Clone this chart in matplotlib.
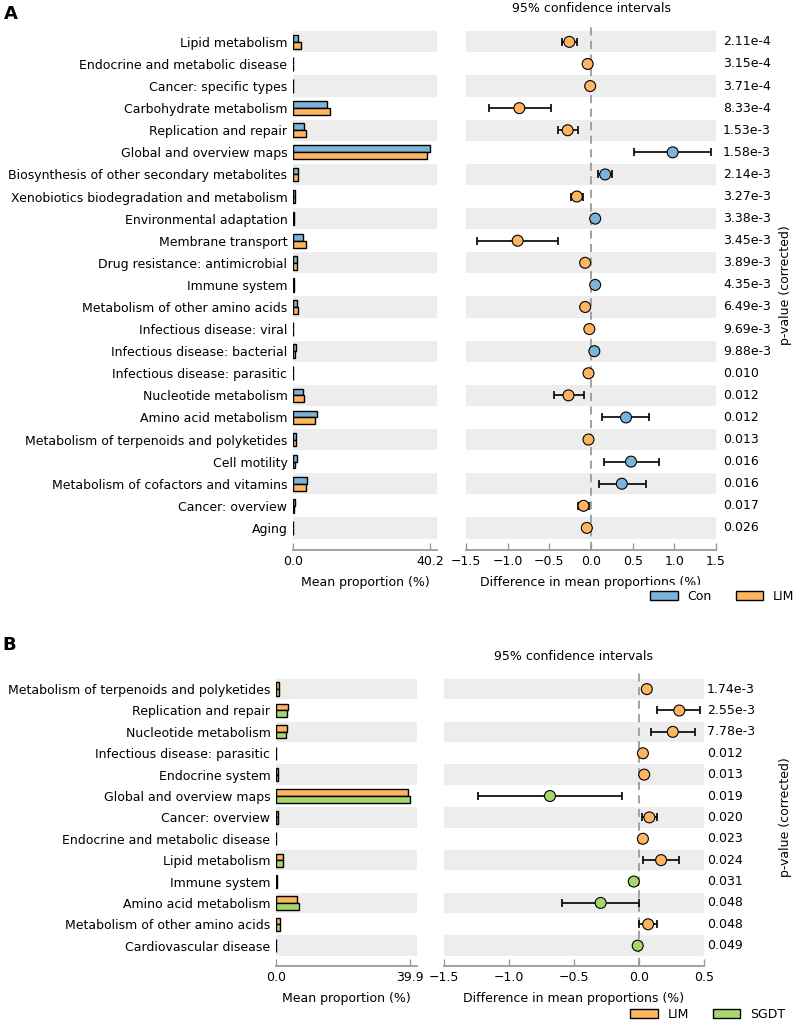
import numpy as np
import matplotlib.pyplot as plt
from matplotlib.patches import Patch
from matplotlib.transforms import blended_transform_factory

plt.rcParams['font.family'] = 'DejaVu Sans'
plt.rcParams['font.size'] = 9

# ---- Panel A: Con vs LIM ----
a_features = ['Lipid metabolism', 'Endocrine and metabolic disease', 'Cancer: specific types',
              'Carbohydrate metabolism', 'Replication and repair', 'Global and overview maps',
              'Biosynthesis of other secondary metabolites', 'Xenobiotics biodegradation and metabolism',
              'Environmental adaptation', 'Membrane transport', 'Drug resistance: antimicrobial',
              'Immune system', 'Metabolism of other amino acids', 'Infectious disease: viral',
              'Infectious disease: bacterial', 'Infectious disease: parasitic', 'Nucleotide metabolism',
              'Amino acid metabolism', 'Metabolism of terpenoids and polyketides', 'Cell motility',
              'Metabolism of cofactors and vitamins', 'Cancer: overview', 'Aging']
a_con = [1.5, 0.1, 0.1, 9.9, 3.2, 40.2, 1.6, 0.7, 0.2, 2.8, 1.1, 0.2, 1.3, 0.1, 0.8, 0.1,
         2.8, 6.9, 1.0, 1.1, 4.0, 0.5, 0.1]
a_lim = [2.2, 0.1, 0.1, 10.9, 3.7, 39.2, 1.5, 0.6, 0.2, 3.8, 1.1, 0.2, 1.4, 0.1, 0.7, 0.1,
         3.2, 6.5, 0.9, 0.6, 3.8, 0.4, 0.1]
a_diff = [-0.26, -0.04, -0.01, -0.86, -0.28, 0.98, 0.17, -0.17, 0.05, -0.88, -0.07, 0.05,
          -0.07, -0.02, 0.04, -0.03, -0.27, 0.42, -0.03, 0.48, 0.37, -0.09, -0.05]
a_low = [-0.35, -0.06, -0.03, -1.23, -0.40, 0.52, 0.08, -0.24, 0.03, -1.37, -0.10, 0.03,
         -0.10, -0.04, 0.02, -0.05, -0.44, 0.13, -0.05, 0.15, 0.10, -0.16, -0.07]
a_high = [-0.17, -0.02, 0.01, -0.48, -0.16, 1.44, 0.25, -0.10, 0.07, -0.40, -0.04, 0.07,
          -0.04, 0.00, 0.06, -0.01, -0.09, 0.70, -0.01, 0.81, 0.66, -0.02, -0.03]
a_pvals = ['2.11e-4', '3.15e-4', '3.71e-4', '8.33e-4', '1.53e-3', '1.58e-3', '2.14e-3', '3.27e-3',
           '3.38e-3', '3.45e-3', '3.89e-3', '4.35e-3', '6.49e-3', '9.69e-3', '9.88e-3', '0.010',
           '0.012', '0.012', '0.013', '0.016', '0.016', '0.017', '0.026']
a_groups = ['Con', 'LIM']

# ---- Panel B: LIM vs SGDT ----
b_features = ['Metabolism of terpenoids and polyketides', 'Replication and repair',
              'Nucleotide metabolism', 'Infectious disease: parasitic', 'Endocrine system',
              'Global and overview maps', 'Cancer: overview', 'Endocrine and metabolic disease',
              'Lipid metabolism', 'Immune system', 'Amino acid metabolism',
              'Metabolism of other amino acids', 'Cardiovascular disease']
b_lim = [1.0, 3.7, 3.2, 0.1, 0.6, 39.2, 0.5, 0.1, 2.2, 0.2, 6.35, 1.2, 0.1]
b_sgdt = [0.9, 3.4, 2.9, 0.1, 0.6, 39.9, 0.5, 0.1, 2.0, 0.2, 6.9, 1.1, 0.1]
b_diff = [0.06, 0.31, 0.26, 0.03, 0.04, -0.685, 0.08, 0.03, 0.17, -0.04, -0.295, 0.07, -0.01]
b_low = [0.04, 0.14, 0.09, 0.01, 0.02, -1.24, 0.02, 0.01, 0.03, -0.07, -0.59, 0.00, -0.03]
b_high = [0.08, 0.47, 0.43, 0.05, 0.06, -0.13, 0.14, 0.05, 0.31, -0.01, 0.00, 0.14, 0.01]
b_pvals = ['1.74e-3', '2.55e-3', '7.78e-3', '0.012', '0.013', '0.019', '0.020', '0.023',
           '0.024', '0.031', '0.048', '0.048', '0.049']
b_groups = ['LIM', 'SGDT']

blue = '#7EB3D9'
orange = '#FDB562'
green = '#A6D76B'
band = '#EDEDED'
gray = '#9A9A9A'

W, H = 796, 1023
fig = plt.figure(figsize=(W / 100, H / 100), dpi=100)


def rect(left, right, top, bottom):
    return [left / W, 1 - bottom / H, (right - left) / W, (bottom - top) / H]


def style_axis(ax):
    for s in ['left', 'top', 'right']:
        ax.spines[s].set_visible(False)
    ax.spines['bottom'].set_color(gray)
    ax.spines['bottom'].set_linewidth(1.3)
    ax.tick_params(axis='x', direction='in', length=5, width=1, color=gray, pad=3.5)


def draw_panel(bar_box, diff_box, features, g1, g2, diff, low, high, pvals, groups,
               c1, c2, ylim_pad, diff_lim, diff_ticks, p_x):
    n = len(features)
    y = np.arange(n)[::-1]
    ax_bar = fig.add_axes(bar_box)
    ax_dif = fig.add_axes(diff_box)

    for i in range(0, n, 2):
        ax_bar.axhspan(y[i] - 0.48, y[i] + 0.48, color=band, lw=0, zorder=0)
        ax_dif.axhspan(y[i] - 0.48, y[i] + 0.48, color=band, lw=0, zorder=0)

    # mean proportion bars
    h = 0.31
    ax_bar.barh(y + h / 2, g1, height=h, color=c1, edgecolor='black', lw=1, zorder=2)
    ax_bar.barh(y - h / 2, g2, height=h, color=c2, edgecolor='black', lw=1, zorder=2)
    vmax = max(max(g1), max(g2))
    ax_bar.set_xlim(0, vmax * 1.05)
    ax_bar.set_xticks([0, vmax])
    ax_bar.set_xticklabels(['0.0', '%.1f' % vmax])
    ax_bar.set_yticks(y)
    ax_bar.set_yticklabels(features)
    ax_bar.tick_params(axis='y', length=0, pad=4)
    ax_bar.set_ylim(-ylim_pad[0], n - 1 + ylim_pad[1])
    ax_bar.set_xlabel('Mean proportion (%)', labelpad=6)
    style_axis(ax_bar)

    # difference with confidence intervals
    diff = np.array(diff)
    xerr = [diff - np.array(low), np.array(high) - diff]
    ax_dif.axvline(0, color=gray, ls='--', lw=1.3, dashes=(4.5, 3), zorder=1)
    ax_dif.errorbar(diff, y, xerr=xerr, fmt='none', ecolor='black', elinewidth=1.2,
                    capsize=3.2, capthick=1.2, zorder=3)
    colors = [c1 if d > 0 else c2 for d in diff]
    ax_dif.scatter(diff, y, s=62, c=colors, edgecolors='black', linewidths=0.8, zorder=4)
    ax_dif.set_xlim(*diff_lim)
    ax_dif.set_xticks(diff_ticks)
    ax_dif.set_yticks([])
    ax_dif.set_ylim(-ylim_pad[0], n - 1 + ylim_pad[1])
    ax_dif.set_xlabel('Difference in mean proportions (%)', labelpad=6)
    style_axis(ax_dif)

    tr = blended_transform_factory(ax_dif.transAxes, ax_dif.transData)
    for yy, p in zip(y, pvals):
        ax_dif.text(p_x, yy, p, transform=tr, ha='left', va='center', fontsize=9)
    return ax_bar, ax_dif


draw_panel(rect(293, 437, 22, 550), rect(466, 716, 22, 550), a_features, a_con, a_lim,
           a_diff, a_low, a_high, a_pvals, a_groups, blue, orange, (1.0, 0.9),
           (-1.5, 1.5), [-1.5, -1.0, -0.5, 0.0, 0.5, 1.0, 1.5], 1.028)

draw_panel(rect(276, 417, 672, 966), rect(444, 704, 672, 966), b_features, b_lim, b_sgdt,
           b_diff, b_low, b_high, b_pvals, b_groups, orange, green, (0.95, 0.8),
           (-1.5, 0.5), [-1.5, -1.0, -0.5, 0.0, 0.5], 1.0115)

# titles, side labels, panel letters
fig.text(591 / W, 1 - 9 / H, '95% confidence intervals', ha='center', va='center', fontsize=9)
fig.text(574 / W, 1 - 656 / H, '95% confidence intervals', ha='center', va='center', fontsize=9)
fig.text(785 / W, 1 - 285 / H, 'p-value (corrected)', rotation=90, ha='center', va='center', fontsize=9)
fig.text(785 / W, 1 - 817 / H, 'p-value (corrected)', rotation=90, ha='center', va='center', fontsize=9)
fig.text(4 / W, 1 - 14 / H, 'A', fontsize=13, fontweight='bold', ha='left', va='center')
fig.text(2 / W, 1 - 645 / H, 'B', fontsize=13, fontweight='bold', ha='left', va='center')

# legends
for groups, cols, lx, ly in [(a_groups, [blue, orange], 645, 596),
                             (b_groups, [orange, green], 625, 1014)]:
    handles = [Patch(facecolor=c, edgecolor='black', lw=1, label=g) for g, c in zip(groups, cols)]
    fig.legend(handles=handles, loc='center left', bbox_to_anchor=(lx / W, 1 - ly / H),
               ncol=2, frameon=True, facecolor='white', edgecolor='none', framealpha=1,
               fancybox=False, borderaxespad=0, handlelength=2.2, handletextpad=0.8,
               columnspacing=1.9, fontsize=9)

fig.savefig('out.png', dpi=100)
